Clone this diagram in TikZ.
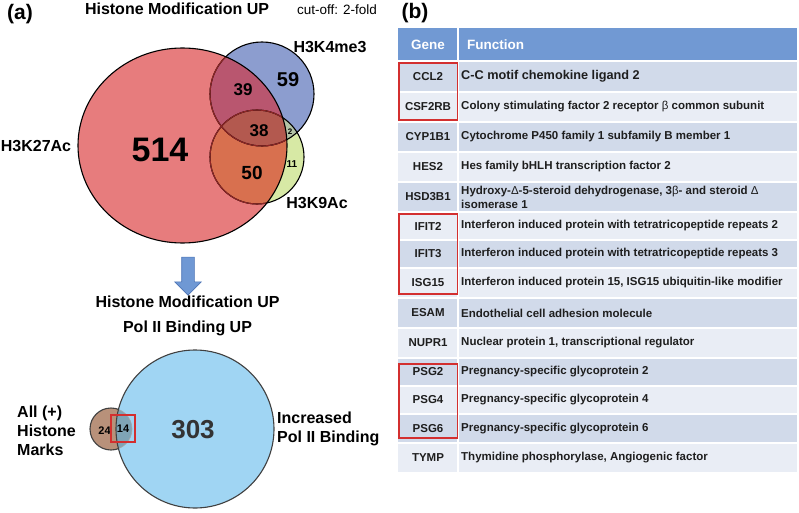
\documentclass[tikz,border=0pt]{standalone}
\usepackage{fontspec}
\setmainfont{Liberation Sans}
\usepackage{tikz}
\usetikzlibrary{positioning, shapes.arrows}
\definecolor{acred}{HTML}{E77C7D}
\definecolor{meblue}{HTML}{8C9DCF}
\definecolor{ninegreen}{HTML}{D7E9A5}
\definecolor{acmemix}{HTML}{B9566F}
\definecolor{acninemix}{HTML}{D8704F}
\definecolor{menine}{HTML}{B3C3A6}
\definecolor{allmix}{HTML}{B3594F}
\definecolor{innerred}{HTML}{8E2525}
\definecolor{markbrown}{HTML}{B8917A}
\definecolor{polblue}{HTML}{A0D5F3}
\definecolor{markmix}{HTML}{7FA4B6}
\definecolor{pickred}{HTML}{D32F2F}
\definecolor{arrowblue}{HTML}{6F98D4}
\definecolor{arrowedge}{HTML}{4C74B5}
\definecolor{headblue}{HTML}{7199D3}
\definecolor{banddark}{HTML}{D1DAEA}
\definecolor{bandlight}{HTML}{E9EDF5}
\definecolor{cellink}{HTML}{1E1E1E}

\begin{document}
\begin{tikzpicture}[x=1pt, y=-1pt,
    lbl/.style={font=\fontsize{16}{19}\selectfont\bfseries, inner sep=0pt},
    cnt/.style={font=\fontsize{#1}{#1}\selectfont\bfseries, inner sep=0pt},
    vennline/.style={line width=1.1pt, draw=#1},
    cell/.style={font=\fontsize{11.5}{14}\selectfont\bfseries, text=cellink, inner sep=0pt, align=left},
    pick/.style={draw=pickred, line width=1.4pt},
]
\useasboundingbox (0,0) rectangle (799,513);

\def\acpath{(182.5,145.5) ellipse [x radius=104.5, y radius=97.5]}
\def\mepath{(262,94) circle [radius=52]}
\def\ninepath{(257,157) circle [radius=47]}
\def\markpath{(111,429) circle [radius=21]}
\def\polpath{(195,429) circle [radius=79]}

% (a) histone marks
\fill[acred] \acpath;
\fill[meblue] \mepath;
\fill[ninegreen] \ninepath;
\begin{scope}
    \clip \mepath;
    \fill[menine] \ninepath;
\end{scope}
\begin{scope}
    \clip \acpath;
    \fill[acmemix] \mepath;
    \fill[acninemix] \ninepath;
    \clip \mepath;
    \fill[allmix] \ninepath;
\end{scope}
\draw[vennline=black] \mepath \ninepath;
\begin{scope}
    \clip \acpath;
    \draw[vennline=innerred] \mepath \ninepath;
\end{scope}
\draw[vennline=black] \acpath;

\node[font=\fontsize{21}{21}\selectfont\bfseries, inner sep=0pt] (taga) at (20,14) {(a)};
\node[lbl] (titlea) at (177,9) {Histone Modification UP};
\node[font=\fontsize{13.5}{14}\selectfont, inner sep=0pt] (cutoff) at (337,10) {cut-off: 2-fold};
\node[lbl] (k4lbl) at (330,47) {H3K4me3};
\node[lbl] (k27lbl) at (36,146) {H3K27Ac};
\node[lbl] (k9lbl) at (317,203) {H3K9Ac};
\node[cnt=34] (n514) at (160,150) {514};
\node[cnt=20] (n59) at (288,80) {59};
\node[cnt=17] (n39) at (243,90) {39};
\node[cnt=17] (n38) at (259,131) {38};
\node[cnt=8] (n2) at (290,132) {2};
\node[cnt=10] (n11) at (292,164) {11};
\node[cnt=19] (n50) at (252,173) {50};

\node[single arrow, rotate=-90, fill=arrowblue, draw=arrowedge, line width=0.6pt,
    minimum height=38pt, inner sep=6pt, single arrow head extend=7pt] (down) at (188,273) {};

% (a) pol II binding
\node[lbl] (titleb1) at (187.5,302) {Histone Modification UP};
\node[lbl] (titleb2) at (187.5,328) {Pol II Binding UP};

\fill[markbrown] \markpath;
\draw[vennline=black!75] \markpath;
\fill[polblue] \polpath;
\begin{scope}
    \clip \polpath;
    \fill[markmix] \markpath;
    \draw[line width=0.6pt, draw=black!35] \markpath;
\end{scope}
\draw[vennline=black!75] \polpath;

\node[cnt=11] (n24) at (104.5,431) {24};
\node[cnt=11, pick, minimum width=24pt, minimum height=27pt] (n14) at (123,428.5) {14};
\node[cnt=26, text=black!80] (n303) at (193,430) {303};
\node[lbl, anchor=west, align=left, font=\fontsize{16}{19}\selectfont\bfseries] (markslbl) at (17,431) {All (+)\\Histone\\Marks};
\node[lbl, anchor=west, align=left, font=\fontsize{16}{19.5}\selectfont\bfseries] (pollbl) at (277,429) {Increased\\Pol II Binding};

% (b) gene table
\node[font=\fontsize{21}{21}\selectfont\bfseries, inner sep=0pt] (tagb) at (415,13) {(b)};
\fill[headblue] (398,28) rectangle (797,61);
\node[cell, text=white, font=\fontsize{13.5}{14}\selectfont\bfseries] (genehd) at (428,44.5) {Gene};
\node[cell, text=white, font=\fontsize{13.5}{14}\selectfont\bfseries, anchor=west] (funchd) at (467,44.5) {Function};

\foreach \yt/\yb/\band/\gene/\func [count=\i] in {
    61/92/banddark/CCL2/{\fontsize{12.7}{14}\selectfont C-C motif chemokine ligand 2},
    92/122/bandlight/CSF2RB/{Colony stimulating factor 2 receptor {\mdseries β} common subunit},
    122/152/banddark/CYP1B1/{Cytochrome P450 family 1 subfamily B member 1},
    152/182/bandlight/HES2/{Hes family bHLH transcription factor 2},
    182/212/banddark/HSD3B1/{Hydroxy-{\mdseries Δ}-5-steroid dehydrogenase, 3{\mdseries β}- and steroid {\mdseries Δ}\\isomerase 1},
    212/240/bandlight/IFIT2/{Interferon induced protein with tetratricopeptide repeats 2},
    240/268/banddark/IFIT3/{Interferon induced protein with tetratricopeptide repeats 3},
    268/298/bandlight/ISG15/{Interferon induced protein 15, ISG15 ubiquitin-like modifier},
    298/328/banddark/ESAM/{Endothelial cell adhesion molecule},
    328/358/bandlight/NUPR1/{Nuclear protein 1, transcriptional regulator},
    358/386/banddark/PSG2/{Pregnancy-specific glycoprotein 2},
    386/414/bandlight/PSG4/{Pregnancy-specific glycoprotein 4},
    414/443/banddark/PSG6/{Pregnancy-specific glycoprotein 6},
    443/472/bandlight/TYMP/{Thymidine phosphorylase, Angiogenic factor}}{
    \fill[\band] (398,\yt) rectangle (797,\yb);
    \draw[white, line width=1.2pt] (398,\yt) -- (797,\yt);
    \node[cell] (g\i) at (428,{(\yt+\yb)/2}) {\gene};
    \node[cell, anchor=west] (f\i) at (461,{(\yt+\yb)/2}) {\func};
}
\draw[white, line width=2pt] (458,28) -- (458,472);

\draw[pick] (399,63) rectangle (457.5,120);
\draw[pick] (399,214) rectangle (457.5,294);
\draw[pick] (399,364) rectangle (457.5,438);
\end{tikzpicture}
\end{document}
